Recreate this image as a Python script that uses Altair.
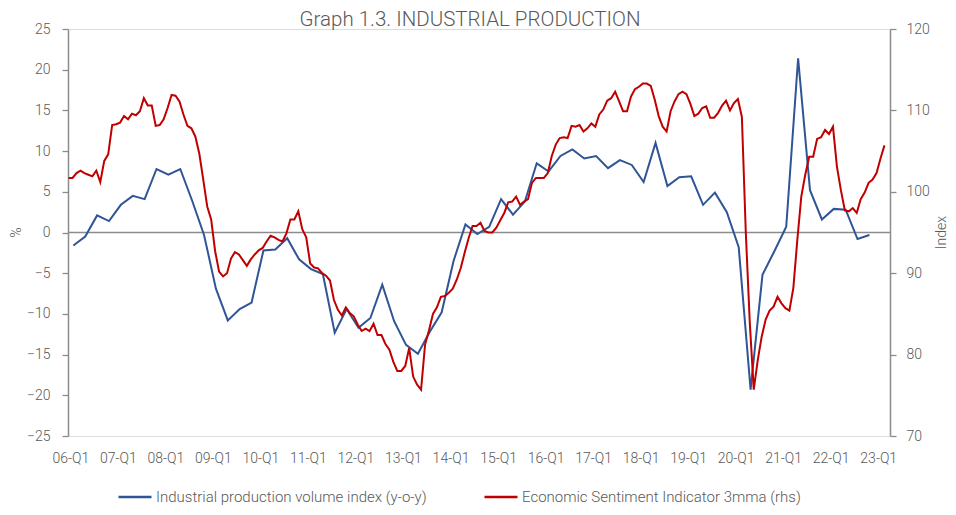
import altair as alt
import pandas as pd

# Industrial production volume index (y-o-y, %), quarterly 06-Q1 .. 22-Q4
ip_yoy = [
    -1.6, -0.5, 2.1, 1.4, 3.4, 4.5, 4.1, 7.8, 7.1, 7.8,
    3.9, -0.3, -6.9, -10.8, -9.4, -8.6, -2.2, -2.1, -0.7, -3.3,
    -4.5, -5.1, -12.3, -9.4, -11.7, -10.5, -6.4, -10.9, -13.8, -14.9,
    -12.2, -9.8, -3.5, 1.0, -0.2, 0.7, 4.1, 2.2, 3.8, 8.5,
    7.5, 9.4, 10.2, 9.1, 9.4, 7.9, 8.9, 8.3, 6.2, 11.0,
    5.7, 6.8, 6.9, 3.4, 4.9, 2.5, -1.8, -19.3, -5.2, -2.3,
    0.7, 21.4, 5.2, 1.6, 2.9, 2.8, -0.8, -0.3,
]

# Economic Sentiment Indicator 3mma (index, rhs), monthly 2006-01 .. 2023-03
esi = [
    101.7, 101.7, 102.3, 102.6, 102.3, 102.1, 101.9, 102.6, 101.2, 103.8,
    104.6, 108.2, 108.3, 108.5, 109.3, 108.9, 109.6, 109.4, 109.9, 111.5,
    110.6, 110.6, 108.1, 108.2, 108.9, 110.3, 111.9, 111.8, 111.1, 109.5,
    108.1, 107.8, 106.8, 104.7, 101.5, 98.2, 96.6, 92.7, 90.2, 89.6,
    90.0, 91.8, 92.6, 92.3, 91.6, 90.9, 91.7, 92.3, 92.8, 93.1,
    93.9, 94.6, 94.4, 94.1, 93.9, 94.9, 96.6, 96.6, 97.6, 95.4,
    94.4, 91.2, 90.7, 90.6, 90.0, 89.7, 89.1, 86.7, 85.5, 84.8,
    85.8, 85.1, 84.7, 83.7, 82.9, 83.2, 82.9, 83.8, 82.4, 82.4,
    81.3, 80.6, 79.1, 78.0, 78.0, 78.6, 80.8, 77.3, 76.3, 75.7,
    81.2, 83.0, 85.0, 85.8, 87.1, 87.2, 87.6, 88.1, 89.2, 90.6,
    92.5, 94.3, 95.8, 95.8, 96.2, 95.2, 95.0, 95.0, 95.6, 96.5,
    97.4, 98.7, 98.8, 99.4, 98.4, 98.8, 99.1, 101.1, 101.7, 101.7,
    101.7, 102.3, 104.4, 105.8, 106.6, 106.7, 106.6, 108.1, 108.0, 108.2,
    107.4, 107.8, 108.4, 108.0, 109.5, 110.1, 111.2, 111.5, 112.3, 111.1,
    109.9, 109.9, 111.7, 112.6, 112.9, 113.3, 113.3, 113.0, 111.3, 109.3,
    108.0, 107.4, 109.9, 111.1, 112.0, 112.3, 112.0, 110.8, 109.3, 109.6,
    110.3, 110.5, 109.1, 109.1, 109.7, 110.6, 111.2, 110.0, 110.9, 111.4,
    109.2, 94.9, 83.9, 75.7, 79.3, 82.2, 84.3, 85.4, 85.9, 87.1,
    86.3, 85.7, 85.4, 88.2, 94.1, 99.4, 102.1, 104.3, 104.3, 106.5,
    106.7, 107.6, 107.1, 108.0, 103.1, 100.2, 97.7, 97.6, 98.0, 97.4,
    99.1, 99.9, 101.1, 101.5, 102.3, 104.1, 105.7,
]

tick_years = list(range(2006, 2024))  # labels 06-Q1 .. 23-Q1

blue_name = "Industrial production volume index (y-o-y)"
red_name = "Economic Sentiment Indicator 3mma (rhs)"
BLUE = "#2F5597"
RED = "#C00000"
GREY = "#8C8C8C"
TXT = "#595959"
FONT = "Roboto"

# months since 2006-01; quarterly values plotted at the quarter's middle month
blue_df = pd.DataFrame({
    "m": [3 * i + 1.2 for i in range(len(ip_yoy))],
    "v": ip_yoy,
    "s": blue_name,
})
red_df = pd.DataFrame({
    "m": list(range(len(esi))),
    "v": esi,
    "s": red_name,
})
zero_df = pd.DataFrame({"v": [0]})

x_enc = alt.X(
    "m:Q",
    scale=alt.Scale(domain=[-0.15, 207.4], nice=False, zero=False),
    axis=alt.Axis(
        values=[12 * (y - 2006) + 0.43 for y in tick_years],
        labelExpr="(floor(datum.value/12)+6 < 10 ? '0' : '') + (floor(datum.value/12)+6) + '-Q1'",
        domain=False, ticks=False, grid=False, title=None,
        labelPadding=15, labelFontSize=14, labelColor=TXT, labelFont=FONT,
        labelFontWeight=300, labelOverlap=False, labelFlush=False,
    ),
)

left_axis = alt.Axis(
    values=list(range(-25, 30, 5)), grid=False,
    domainColor=GREY, domainWidth=1.5, tickColor=GREY, tickWidth=1.3, tickSize=6,
    labelPadding=12, labelFontSize=14, labelColor=TXT, labelFont=FONT, labelFontWeight=300,
    title="%", titleFontSize=14, titleColor=TXT, titleFont=FONT, titleFontWeight=300,
    titleAngle=270, titleX=-52, titleY=203, titleAlign="center", titleBaseline="middle",
)
left_scale = alt.Scale(domain=[-25, 25], nice=False, zero=False)

color_enc = alt.Color(
    "s:N",
    scale=alt.Scale(domain=[blue_name, red_name], range=[BLUE, RED]),
    legend=alt.Legend(
        title=None, orient="none", direction="horizontal", legendX=49, legendY=450,
        symbolType="stroke", symbolSize=1089, symbolStrokeWidth=2.5,
        labelFontSize=15, labelColor=TXT, labelFont=FONT, labelFontWeight=300,
        labelLimit=500, labelOffset=3, columnPadding=52, padding=0,
    ),
)

zero_rule = alt.Chart(zero_df).mark_rule(color=GREY, strokeWidth=1.6).encode(
    y=alt.Y("v:Q", scale=left_scale, axis=left_axis)
)

blue_line = alt.Chart(blue_df).mark_line(strokeWidth=2).encode(
    x=x_enc,
    y=alt.Y("v:Q", scale=left_scale, axis=left_axis),
    color=color_enc,
)

red_line = alt.Chart(red_df).mark_line(strokeWidth=2).encode(
    x=x_enc,
    y=alt.Y(
        "v:Q",
        scale=alt.Scale(domain=[70, 120], nice=False, zero=False),
        axis=alt.Axis(
            orient="right", values=list(range(70, 130, 10)), grid=False,
            domainColor=GREY, domainWidth=1.5, tickColor=GREY, tickWidth=1.3, tickSize=6,
            labelPadding=10, labelFontSize=14, labelColor=TXT, labelFont=FONT, labelFontWeight=300,
            title="Index", titleFontSize=14, titleColor=TXT, titleFont=FONT, titleFontWeight=300,
            titleAngle=270, titleX=51, titleY=203, titleAlign="center", titleBaseline="middle",
        ),
    ),
    color=color_enc,
)

chart = (
    alt.layer(alt.layer(zero_rule, blue_line), red_line)
    .resolve_scale(y="independent")
    .properties(
        width=822,
        height=407,
        autosize=alt.AutoSizeParams(type="none"),
        padding={"left": 60, "top": 21, "right": 58, "bottom": 71},
        title=alt.Title(
            "Graph 1.3. INDUSTRIAL PRODUCTION",
            fontSize=20.5, font=FONT, fontWeight=300, color=TXT,
            anchor="middle", frame="group", offset=4, dx=-9, dy=12,
        ),
    )
    .configure_view(stroke=None)
    .configure(background="white")
)

chart.save("out.html", embed_options={"renderer": "svg", "actions": False})
